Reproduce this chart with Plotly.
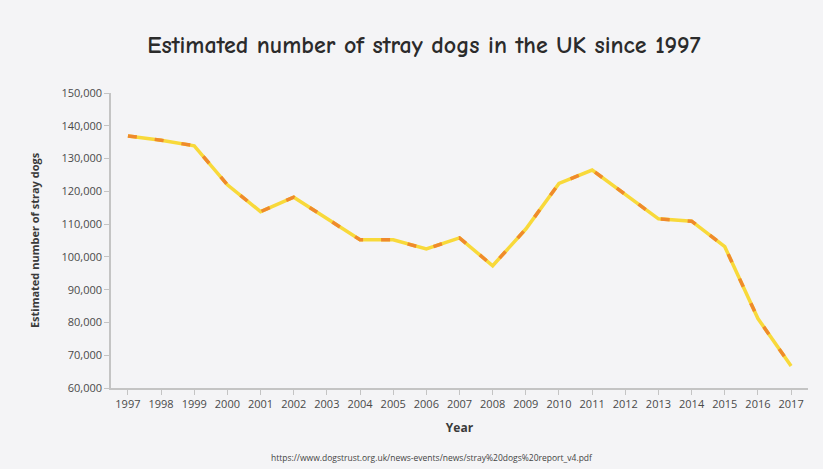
import plotly.graph_objects as go

years = list(range(1997, 2018))
strays = [136900, 135600, 133900, 122000, 113800, 118200, 111700, 105200, 105200, 102400,
          105800, 97300, 108500, 122400, 126500, 119200, 111600, 110900, 103100, 81200, 66700]
y_ticks = list(range(60000, 150001, 10000))

fig = go.Figure()
fig.add_trace(go.Scatter(x=years, y=strays, mode="lines",
                         line=dict(color="#f8d93a", width=3.5), hoverinfo="skip"))
fig.add_trace(go.Scatter(x=years, y=strays, mode="lines",
                         line=dict(color="#ef8a2c", width=3.5, dash="9px,18px")))

bg = "#f4f4f6"
fig.update_layout(
    width=823, height=469, showlegend=False,
    paper_bgcolor=bg, plot_bgcolor=bg,
    margin=dict(l=111, r=15, t=93, b=81),
    title=dict(text="<b>Estimated number of stray dogs in the UK since 1997</b>",
               x=0.515, xanchor="center", y=0.905, yanchor="middle",
               font=dict(family="Comic Neue, Comic Sans MS, DejaVu Sans", size=24, color="#2b2b2b")),
    font=dict(family="Open Sans, Noto Sans, sans-serif", color="#4a4a4a", size=11),
)
fig.update_xaxes(range=[1996.49, 2017.51], tickvals=years, ticktext=[str(y) for y in years],
                 showgrid=False, zeroline=False, showline=True, linecolor="#c4c4c4", linewidth=1.5,
                 ticks="outside", ticklen=5, tickcolor="#c4c4c4",
                 title=dict(text="<b>Year</b>", font=dict(size=12, color="#3a3a3a"), standoff=14))
fig.update_yaxes(range=[60000, 150000], tickvals=y_ticks, ticktext=[f"{v:,}" for v in y_ticks],
                 showgrid=False, zeroline=False, showline=True, linecolor="#c4c4c4", linewidth=1.5,
                 ticks="outside", ticklen=5, tickcolor="#c4c4c4",
                 title=dict(text="<b>Estimated number of stray dogs</b>", font=dict(size=11, color="#3a3a3a"),
                            standoff=20))
fig.add_annotation(text="https://www.dogstrust.org.uk/news-events/news/stray%20dogs%20report_v4.pdf",
                   xref="paper", yref="paper", x=0.46, y=-0.235, yanchor="middle", showarrow=False,
                   font=dict(size=8.5, color="#444444"))
fig.write_html("out.html")
